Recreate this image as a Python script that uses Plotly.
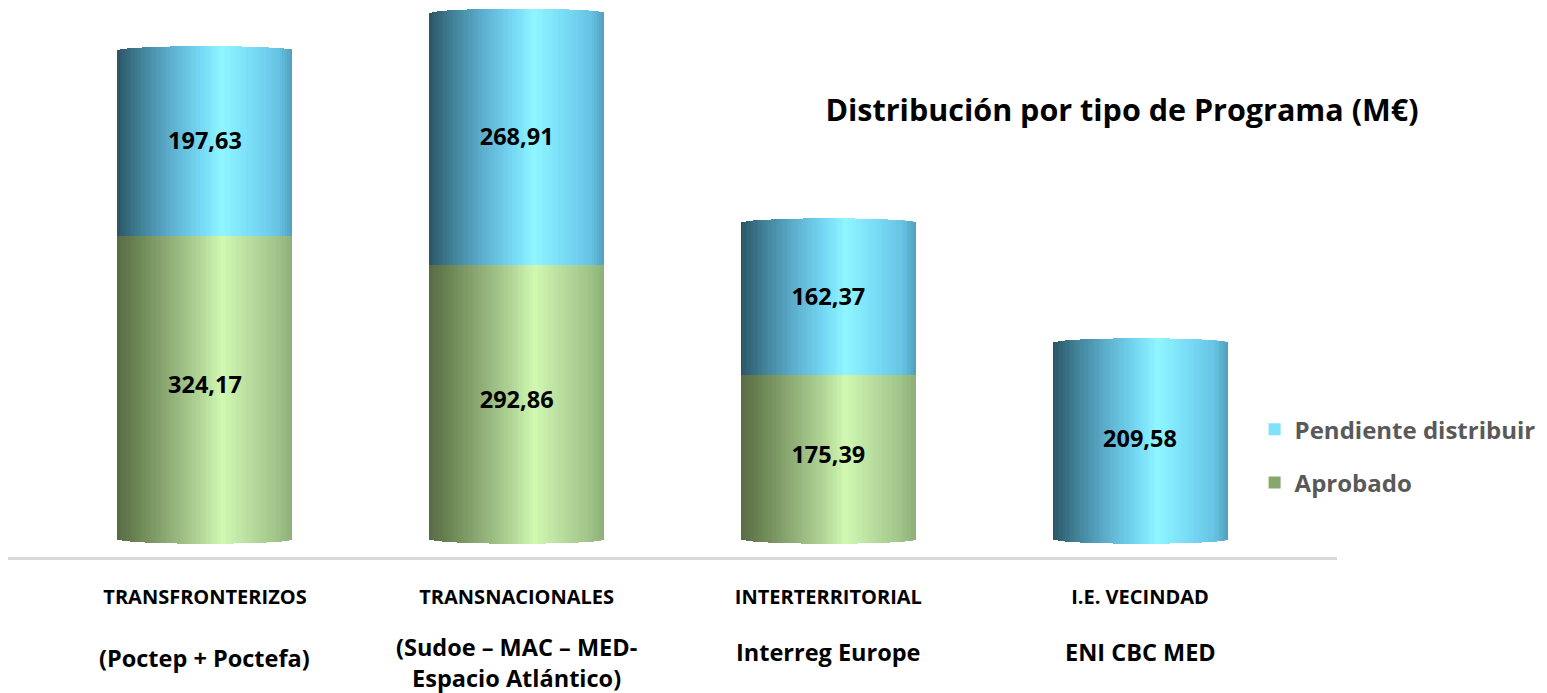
import plotly.graph_objects as go
import numpy as np

# ---------------- data ----------------
categories = ["TRANSFRONTERIZOS", "TRANSNACIONALES", "INTERTERRITORIAL", "I.E. VECINDAD"]
subtitles = ["(Poctep + Poctefa)", "(Sudoe – MAC – MED-<br>Espacio Atlántico)", "Interreg Europe", "ENI CBC MED"]
aprobado = [324.17, 292.86, 175.39, 0.0]
pendiente = [197.63, 268.91, 162.37, 209.58]
series_names = ["Aprobado", "Pendiente distribuir"]
title_text = "Distribución por tipo de Programa (M€)"

# ---------------- style ----------------
FONT = "Open Sans"
BAR_W = 0.5615          # cylinder width in category units
N_STRIPS = 70           # strips used to shade each cylinder
ELL = 5.0               # ellipse depth (y units) of cylinder ends
W, H = 1539, 685        # page body has an 8px margin

blue_stops = [(0.0, "#2c5566"), (0.12, "#3f7d93"), (0.3, "#5cadcc"), (0.48, "#76d9f5"),
              (0.6, "#8ff6ff"), (0.75, "#7bdff8"), (0.92, "#67c4e4"), (1.0, "#529fbd")]
green_stops = [(0.0, "#586b44"), (0.12, "#6c8654"), (0.3, "#90ae77"), (0.48, "#b3d798"),
               (0.6, "#d1f9b2"), (0.75, "#b9dea0"), (0.9, "#a3c78b"), (1.0, "#8daf77")]


def hex2rgb(h):
    h = h.lstrip("#")
    return np.array([int(h[i:i + 2], 16) for i in (0, 2, 4)], dtype=float)


def grad(stops, t):
    for (t0, c0), (t1, c1) in zip(stops[:-1], stops[1:]):
        if t <= t1:
            f = (t - t0) / (t1 - t0) if t1 > t0 else 0
            c = hex2rgb(c0) * (1 - f) + hex2rgb(c1) * f
            return "rgb(%d,%d,%d)" % tuple(np.round(c))
    return stops[-1][1]


x = list(range(len(categories)))
segments = [aprobado, pendiente]
stops_list = [green_stops, blue_stops]

fig = go.Figure()

strip_w = BAR_W / N_STRIPS
for s_idx, vals in enumerate(segments):
    below = [sum(seg[i] for seg in segments[:s_idx]) for i in x]
    above = [sum(seg[i] for seg in segments[s_idx + 1:]) for i in x]
    for k in range(N_STRIPS):
        tc = (k + 0.5) / N_STRIPS
        e = np.sqrt(max(0.0, 1 - (2 * tc - 1) ** 2))
        bases, heights = [], []
        for i in x:
            v = vals[i]
            if v <= 0:
                bases.append(None)
                heights.append(None)
                continue
            b = below[i] - (ELL * e if below[i] == 0 else 0)
            top = below[i] + v + (ELL * e if above[i] == 0 else 0)
            bases.append(b)
            heights.append(top - b)
        w = strip_w * (1.8 if k < N_STRIPS - 1 else 1.0)
        fig.add_trace(go.Bar(
            x=x, y=heights, base=bases,
            width=w, offset=-BAR_W / 2 + k * strip_w,
            marker=dict(color=grad(stops_list[s_idx], tc), line=dict(width=0)),
            showlegend=False, hoverinfo="skip",
        ))

# legend entries
legend_colors = ["#87a86c", "#7fe2fa"]
for s_idx, name in enumerate(series_names):
    fig.add_trace(go.Bar(
        x=[None], y=[None], name=name,
        marker=dict(color=legend_colors[s_idx], line=dict(width=0)),
        legendgroup=name, legendrank=2 - s_idx,
    ))

# value labels
lx, ly, lt = [], [], []
for s_idx, vals in enumerate(segments):
    for i in x:
        if vals[i] > 0:
            below = sum(seg[i] for seg in segments[:s_idx])
            lx.append(i)
            ly.append(below + vals[i] / 2)
            lt.append(f"{vals[i]:.2f}".replace(".", ","))
fig.add_trace(go.Scatter(
    x=lx, y=ly, text=lt, mode="text",
    textfont=dict(family=FONT, size=23.5, color="#000000", weight="bold"),
    showlegend=False, hoverinfo="skip",
))

# sub-labels under the category names
sub_shift = [-101, -105, -95, -95]
for i, s in enumerate(subtitles):
    fig.add_annotation(
        x=i, xref="x", y=0, yref="paper", yanchor="middle", yshift=sub_shift[i],
        text=s, showarrow=False,
        font=dict(family=FONT, size=23.5, color="#000000", weight="bold"),
    )

fig.update_layout(
    width=W, height=H,
    margin=dict(l=0, r=210, t=0, b=136),
    paper_bgcolor="white", plot_bgcolor="white",
    barmode="overlay", bargap=0,
    title=dict(text=title_text, xref="container", yref="container",
               x=1114 / W, y=1 - 102 / H, xanchor="center", yanchor="middle",
               font=dict(family=FONT, size=30.5, color="#000000", weight="bold")),
    xaxis=dict(range=[-0.632, 3.632], tickmode="array", tickvals=x, ticktext=categories,
               showline=True, linecolor="#d9d9d9", linewidth=3, showgrid=False,
               zeroline=False, ticks="", ticklabelstandoff=20,
               tickfont=dict(family=FONT, size=20, color="#000000", weight="bold")),
    yaxis=dict(range=[-19.2, 567.5], visible=False, showgrid=False, zeroline=False),
    legend=dict(x=0.938, xanchor="left", y=0.273, yanchor="top",
                traceorder="grouped", tracegroupgap=19,
                font=dict(family=FONT, size=24, color="#595959", weight="bold"),
                bgcolor="rgba(0,0,0,0)", itemwidth=30),
    showlegend=True,
)

fig.write_html("out.html")
